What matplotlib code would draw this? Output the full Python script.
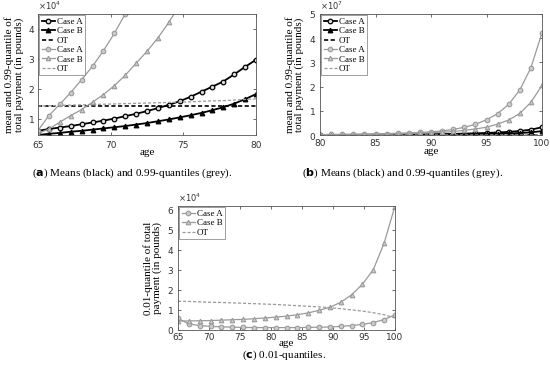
#!/usr/bin/env python3

import numpy as np
import matplotlib as mpl
mpl.use('Agg')
import matplotlib.pyplot as plt
from matplotlib.ticker import ScalarFormatter

mpl.rcParams['font.family'] = ['DejaVu Sans']
mpl.rcParams['mathtext.fontset'] = 'dejavusans'

SERIF = ['Liberation Serif', 'DejaVu Serif']
GREY = '#9a9a9a'

# ---- panel (a): ages 65..80, values in units of 1e4 pounds
age_a = [65, 65.75, 66.5, 67.25, 68, 68.75, 69.5, 70.25, 71, 71.75, 72.5,
         73.25, 74, 74.75, 75.5, 76.25, 77, 77.75, 78.5, 79.25, 80]
mean_a_caseA = [0.59, 0.65, 0.70, 0.75, 0.81, 0.87, 0.93, 1.00, 1.08, 1.16, 1.25,
                1.35, 1.46, 1.58, 1.73, 1.90, 2.07, 2.24, 2.48, 2.73, 2.97]
mean_a_caseB = [0.45, 0.49, 0.52, 0.56, 0.59, 0.63, 0.67, 0.71, 0.75, 0.80, 0.85,
                0.91, 0.97, 1.04, 1.11, 1.19, 1.28, 1.38, 1.50, 1.65, 1.82]
q99_a_caseA = [0.60, 1.10, 1.48, 1.87, 2.30, 2.75, 3.27, 3.85, 4.50, 5.2, 6.0,
               6.9, 7.8, 8.8, 9.9, 11.0, 12.2, 13.5, 14.9, 16.4, 18.0]
q99_a_caseB = [0.50, 0.65, 0.88, 1.10, 1.30, 1.55, 1.80, 2.10, 2.45, 2.85, 3.25,
               3.70, 4.22, 4.8, 5.4, 6.0, 6.7, 7.4, 8.2, 9.0, 9.9]
ot_mean_a = [1.42] * 21
ot_q99_a = [1.42, 1.43, 1.44, 1.45, 1.46, 1.47, 1.48, 1.49, 1.50, 1.51, 1.52,
            1.53, 1.54, 1.55, 1.56, 1.58, 1.59, 1.60, 1.62, 1.64, 1.66]

# ---- panel (b): ages 80..100, values in units of 1e7 pounds
age_b = list(range(80, 101))
mean_b_caseA = [0.0030, 0.0038, 0.0048, 0.0060, 0.0075, 0.0095, 0.012, 0.015, 0.019, 0.024,
                0.030, 0.037, 0.046, 0.057, 0.070, 0.085, 0.105, 0.13, 0.165, 0.22, 0.32]
mean_b_caseB = [0.0018, 0.0022, 0.0027, 0.0033, 0.0040, 0.0050, 0.0060, 0.0075, 0.009, 0.011,
                0.014, 0.017, 0.021, 0.026, 0.032, 0.040, 0.050, 0.063, 0.080, 0.11, 0.16]
q99_b_caseA = [0.018, 0.022, 0.027, 0.033, 0.040, 0.048, 0.058, 0.070, 0.085, 0.105,
               0.13, 0.17, 0.23, 0.32, 0.44, 0.63, 0.88, 1.27, 1.86, 2.78, 4.22]
q99_b_caseB = [0.0099, 0.012, 0.015, 0.019, 0.024, 0.030, 0.037, 0.046, 0.058, 0.073,
               0.092, 0.115, 0.145, 0.19, 0.25, 0.32, 0.45, 0.62, 0.89, 1.35, 2.05]
ot_mean_b = [0.00142] * 21
ot_q99_b = [0.00166, 0.00168, 0.00170, 0.00172, 0.00174, 0.00177, 0.00180, 0.00183, 0.00186, 0.00190,
            0.00194, 0.00198, 0.00203, 0.00208, 0.00214, 0.00220, 0.00227, 0.00235, 0.00243, 0.00252, 0.00262]

# ---- panel (c): ages 65..100, 0.01-quantiles in units of 1e4 pounds
age_c = [65, 66.75, 68.5, 70.25, 72, 73.75, 75.5, 77.25, 79, 80.75, 82.5,
         84.25, 86, 87.75, 89.5, 91.25, 93, 94.75, 96.5, 98.25, 100]
q01_caseA = [0.58, 0.30, 0.22, 0.18, 0.16, 0.14, 0.13, 0.12, 0.12, 0.12, 0.12,
             0.12, 0.13, 0.14, 0.15, 0.18, 0.22, 0.28, 0.37, 0.52, 0.75]
q01_caseB = [0.45, 0.45, 0.46, 0.47, 0.49, 0.51, 0.53, 0.56, 0.60, 0.64, 0.69,
             0.76, 0.85, 0.98, 1.13, 1.38, 1.75, 2.28, 3.00, 4.33, 6.17]
q01_ot = [1.43, 1.42, 1.40, 1.38, 1.37, 1.35, 1.33, 1.31, 1.29, 1.27, 1.24,
          1.21, 1.18, 1.15, 1.11, 1.06, 1.00, 0.94, 0.86, 0.76, 0.60]

W, H = 550.0, 376.0


def px_axes(left, top, right, bottom):
    # pixel box (from top-left) -> figure fraction rect
    return [left / W, 1 - bottom / H, (right - left) / W, (bottom - top) / H]


def style_axes(ax, xpad, ypad, age_y):
    for sp in ax.spines.values():
        sp.set_color('#555555')
        sp.set_linewidth(0.6)
    ax.tick_params(direction='in', top=True, right=True, length=2.5, width=0.5,
                   labelsize=6.5, colors='#333333')
    ax.tick_params(axis='x', pad=xpad)
    ax.tick_params(axis='y', pad=ypad)
    fmt = ScalarFormatter(useMathText=True)
    fmt.set_powerlimits((-3, 3))
    ax.yaxis.set_major_formatter(fmt)
    ax.yaxis.get_offset_text().set_fontsize(6)
    ax.yaxis.get_offset_text().set_color('#333333')
    ax.set_xlabel('age', family=SERIF, fontsize=8)
    ax.xaxis.set_label_coords(0.5, age_y)


def legend(ax):
    leg = ax.legend(loc='upper left', prop={'family': SERIF, 'size': 6.5},
                    handlelength=1.5, handletextpad=0.15, borderpad=0.25,
                    labelspacing=0.12, borderaxespad=0.15, fancybox=False,
                    framealpha=1)
    leg.get_frame().set_edgecolor('#777777')
    leg.get_frame().set_linewidth(0.5)


def draw_means(ax, ages, scale, mA, mB, otm, qA, qB, otq):
    a = np.array(ages)
    ax.plot(a, np.array(mA) * scale, '-o', color='black', lw=1.3, ms=3.3,
            mfc='#dddddd', mew=0.9, label='Case A')
    ax.plot(a, np.array(mB) * scale, '-^', color='black', lw=1.3, ms=3.3,
            mew=0.9, label='Case B')
    ax.plot(a, np.array(otm) * scale, '--', color='black', lw=1.2,
            dashes=(2.5, 1.5), label='OT')
    ax.plot(a, np.array(qA) * scale, '-o', color=GREY, lw=0.9, ms=3.3,
            mfc='#cccccc', mew=0.8, label='Case A')
    ax.plot(a, np.array(qB) * scale, '-^', color=GREY, lw=0.9, ms=3.3,
            mfc='#cccccc', mew=0.8, label='Case B')
    ax.plot(a, np.array(otq) * scale, '--', color=GREY, lw=0.9,
            dashes=(2.5, 1.5), label='OT')


fig = plt.figure(figsize=(5.5, 3.76), dpi=100)

ylabel_ab = 'mean and 0.99-quantile of\ntotal payment (in pounds)'

# (a)
ax1 = fig.add_axes(px_axes(38, 14, 256, 135))
draw_means(ax1, age_a, 1e4, mean_a_caseA, mean_a_caseB, ot_mean_a,
           q99_a_caseA, q99_a_caseB, ot_q99_a)
ax1.set_xlim(65, 80)
ax1.set_ylim(0.45e4, 4.5e4)
ax1.set_xticks([65, 70, 75, 80])
ax1.set_yticks([1e4, 2e4, 3e4, 4e4])
style_axes(ax1, 4, 2, -0.11)
ax1.set_ylabel(ylabel_ab, family=SERIF, fontsize=8, labelpad=3, linespacing=1.0)
legend(ax1)

# (b)
ax2 = fig.add_axes(px_axes(320, 14, 542, 135))
draw_means(ax2, age_b, 1e7, mean_b_caseA, mean_b_caseB, ot_mean_b,
           q99_b_caseA, q99_b_caseB, ot_q99_b)
ax2.set_xlim(80, 100)
ax2.set_ylim(0, 5e7)
ax2.set_xticks([80, 85, 90, 95, 100])
ax2.set_yticks([0, 1e7, 2e7, 3e7, 4e7, 5e7])
style_axes(ax2, 3, 3, -0.1)
ax2.set_ylabel(ylabel_ab, family=SERIF, fontsize=8, labelpad=3, linespacing=1.0)
legend(ax2)

# (c)
ax3 = fig.add_axes(px_axes(178, 206, 395, 330))
a3 = np.array(age_c)
ax3.plot(a3, np.array(q01_caseA) * 1e4, '-o', color=GREY, lw=0.9, ms=3.3,
         mfc='#cccccc', mew=0.8, label='Case A')
ax3.plot(a3, np.array(q01_caseB) * 1e4, '-^', color=GREY, lw=0.9, ms=3.3,
         mfc='#cccccc', mew=0.8, label='Case B')
ax3.plot(a3, np.array(q01_ot) * 1e4, '--', color=GREY, lw=0.9,
         dashes=(2.5, 1.5), label='OT')
ax3.set_xlim(65, 100)
ax3.set_ylim(0, 6.17e4)
ax3.set_xticks([65, 70, 75, 80, 85, 90, 95, 100])
ax3.set_yticks([0, 1e4, 2e4, 3e4, 4e4, 5e4, 6e4])
style_axes(ax3, 1.8, 3, -0.07)
ax3.set_ylabel('0.01-quantile of total\npayment (in pounds)', family=SERIF,
               fontsize=8, labelpad=3, linespacing=1.0)
legend(ax3)

# captions
cap = dict(family=SERIF, fontsize=8, ha='center', va='center')
fig.text(132 / W, 1 - 173 / H, r'($\mathbf{a}$) Means (black) and 0.99-quantiles (grey).', **cap)
fig.text(403 / W, 1 - 173 / H, r'($\mathbf{b}$) Means (black) and 0.99-quantiles (grey).', **cap)
fig.text(284 / W, 1 - 355 / H, r'($\mathbf{c}$) 0.01-quantiles.', **cap)

fig.savefig('out.png', dpi=100)
